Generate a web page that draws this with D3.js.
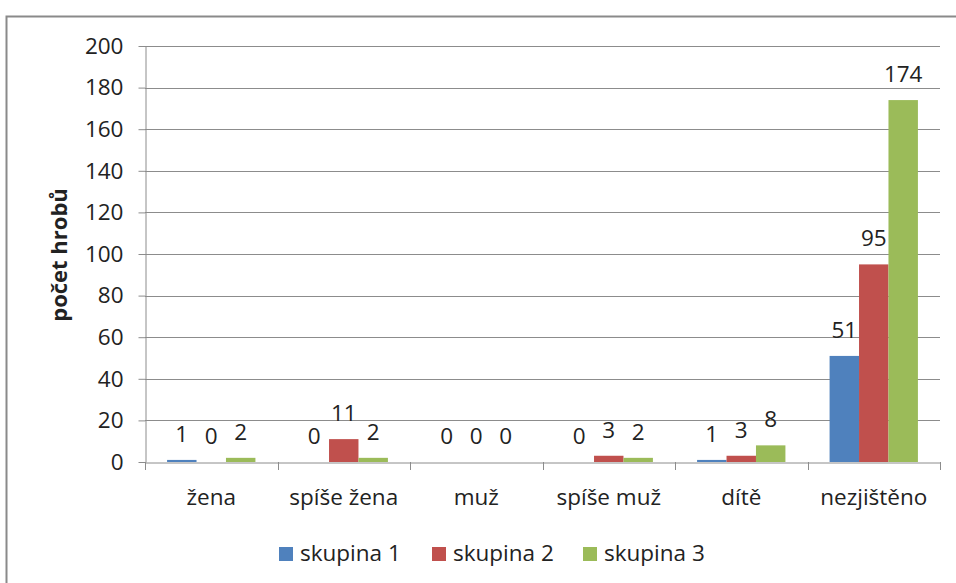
<!DOCTYPE html>
<html><head><meta charset="utf-8">
<script src="https://cdn.jsdelivr.net/npm/d3@7/dist/d3.min.js"></script>
<style>body{margin:0;background:#fff}text{font-family:"Open Sans",Lato,sans-serif;fill:#222}</style>
</head><body><svg id="c" width="956" height="583"></svg>
<script>
const categories = ["žena","spíše žena","muž","spíše muž","dítě","nezjištěno"];
const seriesNames = ["skupina 1","skupina 2","skupina 3"];
const skupina1 = [1,0,0,0,1,51];
const skupina2 = [0,11,0,3,3,95];
const skupina3 = [2,2,0,2,8,174];
const seriesValues = [skupina1, skupina2, skupina3];
const colors = ["#4F81BD","#C0504D","#9BBB59"];
const yTicks = [0,20,40,60,80,100,120,140,160,180,200];

const FONT = "'Open Sans',Lato,sans-serif";
const FS = 22.5;
const svg = d3.select("#c");
svg.append("rect").attr("x",6.5).attr("y",16.5).attr("width",960).attr("height",600)
  .attr("fill","none").attr("stroke","#8a8a8a").attr("stroke-width",2);

const L=145,R=940,T=46,B=462;
const x = d3.scaleBand().domain(categories).range([L,R]).padding(0);
const xi = d3.scaleBand().domain(d3.range(3)).range([0,x.bandwidth()]).paddingInner(0).paddingOuter(0.75);
const y = d3.scaleLinear().domain([0,200]).range([B,T]);

// gridlines
svg.append("g").selectAll("line").data(yTicks.filter(d=>d>0)).join("line")
  .attr("x1",L).attr("x2",R).attr("y1",d=>Math.round(y(d))+0.5).attr("y2",d=>Math.round(y(d))+0.5)
  .attr("stroke","#8c8c8c").attr("stroke-width",1);

// y axis
const ya = svg.append("g").attr("transform",`translate(${L+0.5},0)`)
  .call(d3.axisLeft(y).tickValues(yTicks).tickSize(7).tickPadding(15).tickSizeOuter(0));
ya.select(".domain").attr("stroke","#8c8c8c");
ya.selectAll(".tick line").attr("stroke","#8c8c8c");
ya.selectAll(".tick text").attr("font-size",FS).attr("font-family",FONT).attr("fill","#222");

// bars
seriesValues.forEach((vals,s)=>{
  svg.append("g").selectAll("rect").data(vals).join("rect")
    .attr("x",(d,i)=>x(categories[i])+xi(s))
    .attr("width",xi.bandwidth())
    .attr("y",d=>y(d)).attr("height",d=>B-y(d))
    .attr("fill",colors[s]);
  svg.append("g").selectAll("text").data(vals).join("text")
    .attr("x",(d,i)=>x(categories[i])+xi(s)+xi.bandwidth()/2)
    .attr("y",d=>y(d)-18)
    .attr("text-anchor","middle").attr("font-size",FS).text(d=>d);
});

// x axis
const xa = svg.append("g").attr("transform",`translate(0,${B+0.5})`)
  .call(d3.axisBottom(x).tickSize(0).tickPadding(0).tickSizeOuter(0));
xa.select(".domain").attr("stroke","#8c8c8c");
xa.selectAll(".tick text").remove();
svg.append("g").selectAll("line").data(d3.range(categories.length+1)).join("line")
  .attr("x1",i=>Math.round(L+i*x.step())+0.5).attr("x2",i=>Math.round(L+i*x.step())+0.5)
  .attr("y1",B).attr("y2",B+8).attr("stroke","#8c8c8c");
svg.append("g").selectAll("text").data(categories).join("text")
  .attr("x",d=>x(d)+x.bandwidth()/2).attr("y",505)
  .attr("text-anchor","middle").attr("font-size",FS).text(d=>d);

// y title
svg.append("text").attr("transform","translate(67,255) rotate(-90)")
  .attr("text-anchor","middle").attr("font-size",22).attr("font-weight","bold").text("počet hrobů");

// legend
const lx=[279,432,583];
seriesNames.forEach((n,i)=>{
  svg.append("rect").attr("x",lx[i]).attr("y",547).attr("width",14).attr("height",14).attr("fill",colors[i]);
  svg.append("text").attr("x",lx[i]+21).attr("y",561).attr("font-size",FS).text(n);
});
</script></body></html>
